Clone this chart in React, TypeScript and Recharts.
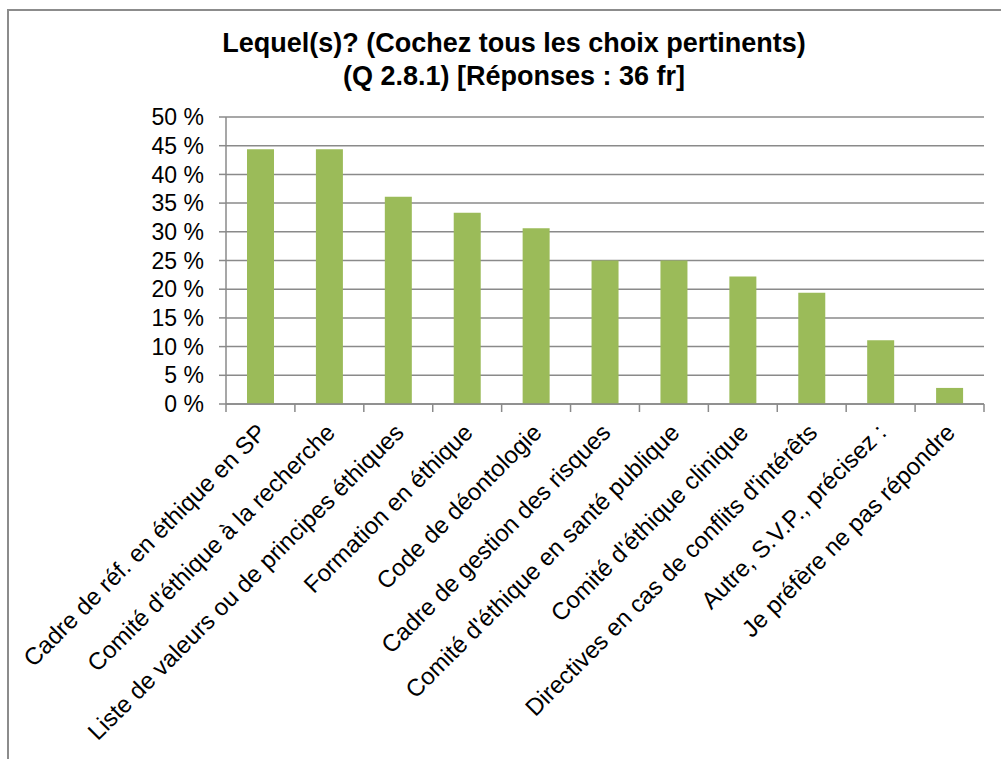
import { BarChart, Bar, XAxis, YAxis, CartesianGrid } from "recharts";

const CATEGORIES = [
  "Cadre de réf. en éthique en SP",
  "Comité d'éthique à la recherche",
  "Liste de valeurs ou de principes éthiques",
  "Formation en éthique",
  "Code de déontologie",
  "Cadre de gestion des risques",
  "Comité d'éthique en santé publique",
  "Comité d'éthique clinique",
  "Directives en cas de conflits d'intérêts",
  "Autre, S.V.P., précisez :",
  "Je préfère ne pas répondre",
];
const PERCENTS = [44.4, 44.4, 36.1, 33.3, 30.6, 25.0, 25.0, 22.2, 19.4, 11.1, 2.8];
const Y_TICKS = [0, 5, 10, 15, 20, 25, 30, 35, 40, 45, 50];
const TITLE_LINES = ["Lequel(s)? (Cochez tous les choix pertinents)", "(Q 2.8.1) [Réponses : 36 fr]"];

const data = CATEGORIES.map((name, i) => ({ name, value: PERCENTS[i] }));

const FONT = "'Liberation Sans', Arial, sans-serif";
const GRID = "#8a8a8a";

function CategoryTick(props: any) {
  const { x, y, payload, index } = props;
  const half = payload?.offset ?? 34.45;
  const last = index === CATEGORIES.length - 1;
  const ax = x + 7;
  const ay = y + 30;
  return (
    <g>
      <line x1={x - half} y1={y} x2={x - half} y2={y + 8} stroke={GRID} strokeWidth={1.5} />
      {last && <line x1={x + half} y1={y} x2={x + half} y2={y + 8} stroke={GRID} strokeWidth={1.5} />}
      <text
        x={ax}
        y={ay}
        transform={`rotate(-45, ${ax}, ${ay})`}
        textAnchor="end"
        fontSize={24}
        fontFamily={FONT}
        fill="#000"
      >
        {payload.value}
      </text>
    </g>
  );
}

export default function App() {
  return (
    <div style={{ position: "absolute", left: 0, top: 0, width: 1001, height: 759, overflow: "hidden", background: "#fff" }}>
      <div
        style={{
          position: "absolute",
          left: 7,
          top: 9,
          width: 1010,
          height: 800,
          border: "2px solid #8c8c8c",
          boxSizing: "border-box",
        }}
      />
      <div
        style={{
          position: "absolute",
          left: 164,
          width: 700,
          top: 27,
          textAlign: "center",
          fontFamily: FONT,
          fontWeight: "bold",
          fontSize: 27,
          lineHeight: "33px",
          color: "#000",
        }}
      >
        {TITLE_LINES.map((t) => (
          <div key={t}>{t}</div>
        ))}
      </div>
      <div style={{ position: "absolute", left: 0, top: 0 }}>
        <BarChart
          width={1001}
          height={759}
          data={data}
          margin={{ top: 117, right: 17, bottom: 55, left: 146 }}
          barSize={27}
        >
          <CartesianGrid horizontal vertical={false} stroke={GRID} strokeWidth={1.5} />
          <XAxis
            dataKey="name"
            interval={0}
            height={300}
            tickLine={false}
            tickSize={0}
            tickMargin={0}
            axisLine={{ stroke: GRID, strokeWidth: 1.5 }}
            tick={<CategoryTick />}
          />
          <YAxis
            width={80}
            domain={[0, 50]}
            ticks={Y_TICKS}
            interval={0}
            tickFormatter={(v: number) => `${v} %`}
            tickSize={7}
            tickMargin={15}
            tickLine={{ stroke: GRID, strokeWidth: 1.5 }}
            axisLine={{ stroke: GRID, strokeWidth: 1.5 }}
            tick={{ fill: "#000", fontSize: 23, fontFamily: FONT }}
          />
          <Bar dataKey="value" fill="#9BBB59" isAnimationActive={false} />
        </BarChart>
      </div>
    </div>
  );
}
